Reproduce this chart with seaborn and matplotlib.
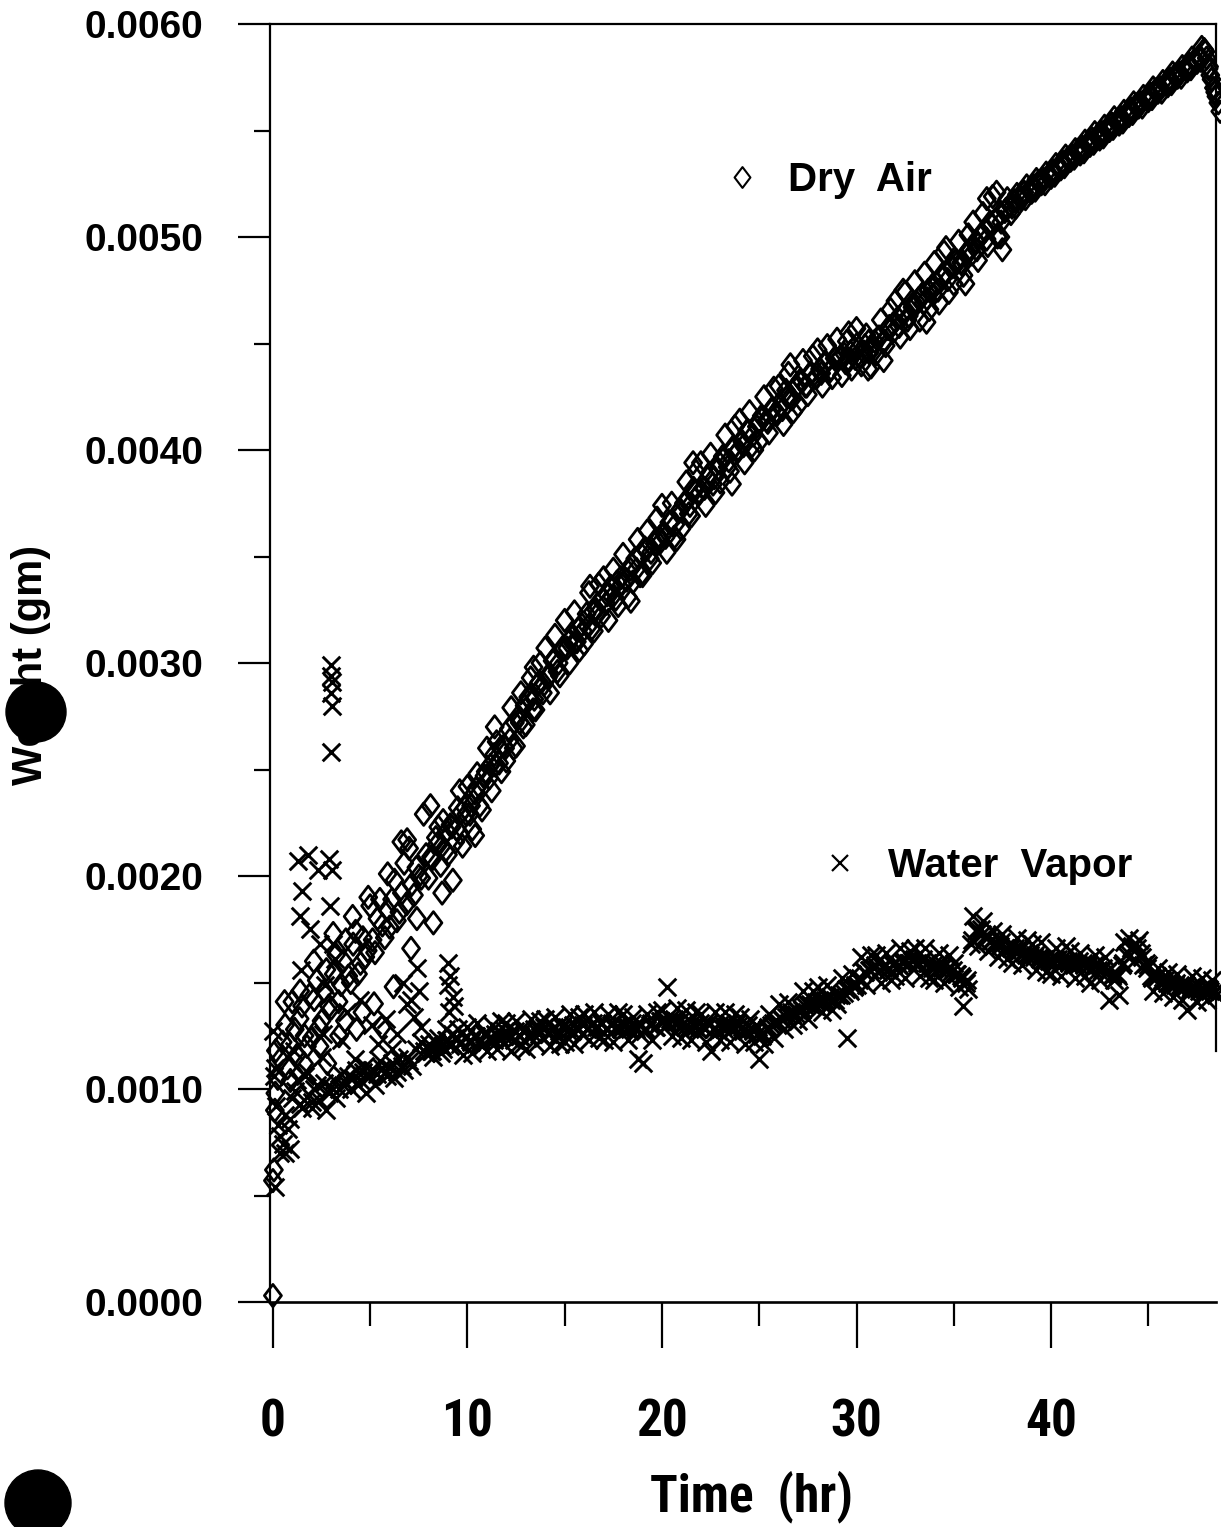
"""
Dry air vs water vapor weight gain over time (scanned plot recreation)
"""

import numpy as np
import pandas as pd
import matplotlib
matplotlib.use("Agg")
import matplotlib.pyplot as plt
from matplotlib.path import Path
from matplotlib.patches import Ellipse
from matplotlib.lines import Line2D
from matplotlib import font_manager
import seaborn as sns

# Sampling times (hr), shared by both runs
time_hr = [
    0.0, 0.25, 0.5, 0.75, 1.0, 1.25, 1.5, 1.75, 2.0, 2.25, 2.5, 2.75,
    3.0, 3.25, 3.5, 3.75, 4.0, 4.25, 4.5, 4.75, 5.0, 5.25, 5.5, 5.75,
    6.0, 6.25, 6.5, 6.75, 7.0, 7.25, 7.5, 7.75, 8.0, 8.25, 8.5, 8.75,
    9.0, 9.25, 9.5, 9.75, 10.0, 10.25, 10.5, 10.75, 11.0, 11.25, 11.5, 11.75,
    12.0, 12.25, 12.5, 12.75, 13.0, 13.25, 13.5, 13.75, 14.0, 14.25, 14.5, 14.75,
    15.0, 15.25, 15.5, 15.75, 16.0, 16.25, 16.5, 16.75, 17.0, 17.25, 17.5, 17.75,
    18.0, 18.25, 18.5, 18.75, 19.0, 19.25, 19.5, 19.75, 20.0, 20.25, 20.5, 20.75,
    21.0, 21.25, 21.5, 21.75, 22.0, 22.25, 22.5, 22.75, 23.0, 23.25, 23.5, 23.75,
    24.0, 24.25, 24.5, 24.75, 25.0, 25.25, 25.5, 25.75, 26.0, 26.25, 26.5, 26.75,
    27.0, 27.25, 27.5, 27.75, 28.0, 28.25, 28.5, 28.75, 29.0, 29.25, 29.5, 29.75,
    30.0, 30.25, 30.5, 30.75, 31.0, 31.25, 31.5, 31.75, 32.0, 32.25, 32.5, 32.75,
    33.0, 33.25, 33.5, 33.75, 34.0, 34.25, 34.5, 34.75, 35.0, 35.25, 35.5, 35.75,
    36.0, 36.25, 36.5, 36.75, 37.0, 37.25, 37.5, 37.75, 38.0, 38.25, 38.5, 38.75,
    39.0, 39.25, 39.5, 39.75, 40.0, 40.25, 40.5, 40.75, 41.0, 41.25, 41.5, 41.75,
    42.0, 42.25, 42.5, 42.75, 43.0, 43.25, 43.5, 43.75, 44.0, 44.25, 44.5, 44.75,
    45.0, 45.25, 45.5, 45.75, 46.0, 46.25, 46.5, 46.75, 47.0, 47.25, 47.5, 47.75,
    48.0, 48.25, 48.5,
]

# Weights, in units of 1e-4 gm
dry_air = [
    0.3, 10.5, 12.2, 11.0, 14.1, 11.6, 13.9, 12.0, 12.4, 15.1, 13.2, 15.6,
    13.8, 16.3, 14.9, 17.0, 15.0, 17.4, 15.9, 16.2, 18.6, 16.4, 18.9, 17.1,
    17.6, 19.8, 18.3, 20.6, 21.3, 19.1, 20.0, 22.9, 19.9, 17.8, 22.3, 22.6,
    21.0, 19.8, 23.2, 21.4, 24.2, 22.2, 24.8, 23.1, 26.0, 24.0, 26.3, 24.9,
    25.4, 27.9, 26.1, 28.6, 27.1, 29.3, 27.8, 30.0, 30.7, 28.6, 31.3, 29.4,
    32.0, 30.0, 32.4, 30.6, 30.9, 33.3, 31.5, 33.7, 34.0, 32.0, 34.4, 32.7,
    35.1, 33.1, 33.8, 35.8, 34.1, 36.2, 34.7, 36.8, 37.4, 35.2, 37.5, 35.8,
    36.3, 38.5, 36.9, 39.0, 39.4, 37.4, 39.8, 38.0, 38.5, 40.7, 39.0, 41.1,
    41.4, 39.4, 41.8, 40.0, 40.4, 42.5, 40.8, 42.9, 43.0, 41.2, 43.6, 41.8,
    42.1, 44.2, 42.6, 44.4, 44.7, 43.0, 44.9, 43.4, 45.2, 43.5, 45.1, 43.8,
    45.7, 44.0, 45.4, 43.9, 44.5, 46.1, 44.9, 46.6, 47.0, 45.3, 47.4, 45.7,
    47.9, 46.1, 48.3, 46.6, 48.8, 46.9, 49.3, 47.4, 47.8, 49.8, 48.2, 50.1,
    50.7, 48.9, 51.1, 49.6, 51.9, 50.0, 49.4, 51.8, 51.4, 52.0, 51.8, 52.4,
    52.1, 52.7, 52.5, 53.0, 52.8, 53.4, 53.2, 53.8, 53.6, 54.1, 53.9, 54.5,
    54.3, 54.9, 54.6, 55.2, 55.0, 55.6, 55.3, 55.9, 55.7, 56.3, 56.1, 56.6,
    56.4, 57.0, 56.8, 57.3, 57.1, 57.7, 57.5, 58.0, 57.8, 58.4, 58.2, 58.9,
    58.4, 57.4, 56.6,
]

water_vapor = [
    12.7, 8.3, 7.4, 8.1, 9.6, 10.4, 9.1, 10.8, 9.4, 10.2, 11.5, 9.0,
    10.1, 9.6, 10.7, 10.3, 10.0, 10.9, 10.4, 11.1, 10.6, 10.2, 11.3, 10.8,
    11.0, 10.5, 11.4, 10.9, 11.3, 13.4, 14.6, 11.8, 12.1, 11.5, 12.4, 11.9,
    15.9, 14.3, 12.8, 11.6, 12.9, 11.7, 13.1, 12.0, 11.8, 13.0, 11.9, 13.2,
    13.1, 11.8, 13.2, 12.0, 11.9, 13.3, 12.1, 13.2, 13.3, 12.0, 13.4, 12.1,
    12.2, 13.5, 12.1, 13.4, 13.5, 12.3, 13.6, 12.4, 12.3, 13.5, 12.2, 13.6,
    13.5, 12.3, 13.4, 11.4, 11.2, 13.5, 12.3, 13.6, 13.7, 14.8, 12.5, 13.8,
    12.4, 13.7, 12.3, 13.6, 13.5, 12.2, 11.8, 13.6, 12.3, 13.6, 12.2, 13.5,
    13.4, 12.1, 13.3, 12.2, 11.4, 12.1, 13.5, 12.4, 14.0, 12.8, 14.1, 13.0,
    13.2, 14.6, 13.3, 14.6, 14.8, 13.6, 14.9, 13.7, 14.0, 15.2, 12.4, 15.4,
    14.9, 16.2, 14.9, 16.3, 16.3, 15.0, 16.4, 15.1, 15.3, 16.6, 15.2, 16.5,
    16.6, 15.3, 16.6, 15.2, 15.1, 16.4, 15.0, 16.3, 15.9, 14.8, 13.9, 14.7,
    18.1, 16.7, 17.9, 16.5, 17.4, 16.2, 17.3, 16.1, 15.9, 17.1, 15.8, 17.0,
    16.8, 15.6, 16.9, 15.5, 15.4, 16.6, 15.3, 16.7, 16.5, 15.2, 16.4, 15.3,
    15.0, 16.3, 15.1, 16.2, 14.2, 15.1, 14.4, 16.9, 17.1, 16.0, 17.0, 15.8,
    15.8, 14.6, 15.7, 14.5, 15.5, 14.3, 15.4, 14.2, 13.7, 15.3, 14.1, 15.2,
    14.2, 15.1, 14.4,
]

# Readings logged in between the grid times above
time_hr_b = [
    0.125, 0.375, 0.625, 0.875, 1.125, 1.375, 1.625, 1.875, 2.125, 2.375, 2.625, 2.875,
    3.125, 3.375, 3.625, 3.875, 4.125, 4.375, 4.625, 4.875, 5.125, 5.375, 5.625, 5.875,
    6.125, 6.375, 6.625, 6.875, 7.125, 7.375, 7.625, 7.875, 8.125, 8.375, 8.625, 8.875,
    9.125, 9.375, 9.625, 9.875, 10.125, 10.375, 10.625, 10.875, 11.125, 11.375, 11.625, 11.875,
    12.125, 12.375, 12.625, 12.875, 13.125, 13.375, 13.625, 13.875, 14.125, 14.375, 14.625, 14.875,
    15.125, 15.375, 15.625, 15.875, 16.125, 16.375, 16.625, 16.875, 17.125, 17.375, 17.625, 17.875,
    18.125, 18.375, 18.625, 18.875, 19.125, 19.375, 19.625, 19.875, 20.125, 20.375, 20.625, 20.875,
    21.125, 21.375, 21.625, 21.875, 22.125, 22.375, 22.625, 22.875, 23.125, 23.375, 23.625, 23.875,
    24.125, 24.375, 24.625, 24.875, 25.125, 25.375, 25.625, 25.875, 26.125, 26.375, 26.625, 26.875,
    27.125, 27.375, 27.625, 27.875, 28.125, 28.375, 28.625, 28.875, 29.125, 29.375, 29.625, 29.875,
    30.125, 30.375, 30.625, 30.875, 31.125, 31.375, 31.625, 31.875, 32.125, 32.375, 32.625, 32.875,
    33.125, 33.375, 33.625, 33.875, 34.125, 34.375, 34.625, 34.875, 35.125, 35.375, 35.625, 35.875,
    36.125, 36.375, 36.625, 36.875, 37.125, 37.375, 37.625, 37.875, 38.125, 38.375, 38.625, 38.875,
    39.125, 39.375, 39.625, 39.875, 40.125, 40.375, 40.625, 40.875, 41.125, 41.375, 41.625, 41.875,
    42.125, 42.375, 42.625, 42.875, 43.125, 43.375, 43.625, 43.875, 44.125, 44.375, 44.625, 44.875,
    45.125, 45.375, 45.625, 45.875, 46.125, 46.375, 46.625, 46.875, 47.125, 47.375, 47.625, 47.875,
    48.125, 48.375,
]

dry_air_b = [
    9.8, 11.4, 13.0, 12.1, 12.8, 13.3, 12.5, 14.4, 14.2, 12.9, 14.6, 13.9,
    15.4, 14.1, 16.0, 15.3, 16.8, 15.4, 17.1, 16.5, 17.0, 18.0, 17.7, 18.4,
    18.9, 17.9, 19.2, 18.7, 19.6, 20.4, 19.9, 21.0, 20.9, 21.8, 20.5, 21.2,
    22.4, 21.6, 22.0, 23.2, 22.9, 23.9, 23.3, 24.7, 24.6, 25.7, 25.3, 26.1,
    26.9, 26.0, 27.5, 27.0, 28.4, 27.8, 29.0, 28.6, 29.3, 30.1, 29.6, 30.6,
    30.7, 31.2, 31.0, 31.8, 32.3, 31.6, 32.5, 32.2, 32.8, 33.6, 33.0, 34.0,
    33.9, 34.4, 34.9, 34.1, 35.4, 34.9, 35.6, 35.9, 36.1, 36.6, 35.9, 37.1,
    37.5, 37.0, 38.2, 37.9, 38.2, 38.7, 38.4, 39.1, 39.7, 39.2, 40.0, 39.9,
    40.4, 40.9, 40.2, 41.1, 41.6, 41.4, 41.9, 41.8, 42.1, 42.8, 42.5, 42.9,
    43.3, 43.0, 43.6, 43.4, 43.8, 44.1, 43.7, 44.3, 44.3, 44.5, 44.2, 44.8,
    44.8, 44.6, 45.1, 44.9, 45.3, 45.1, 45.7, 45.9, 46.2, 46.4, 46.1, 46.7,
    46.9, 47.3, 47.1, 47.6, 47.8, 48.1, 48.3, 48.6, 48.9, 48.8, 49.2, 49.4,
    49.8, 50.0, 50.3, 50.7, 50.8, 51.1, 51.2, 51.5, 51.7, 51.9, 52.1, 52.2,
    52.4, 52.6, 52.7, 52.9, 53.1, 53.3, 53.5, 53.7, 53.8, 54.0, 54.2, 54.4,
    54.6, 54.7, 54.9, 55.1, 55.3, 55.4, 55.6, 55.8, 56.0, 56.2, 56.3, 56.5,
    56.7, 56.9, 57.0, 57.2, 57.4, 57.6, 57.7, 57.9, 58.1, 58.3, 58.5, 58.8,
    58.0, 57.0,
]

water_vapor_b = [
    11.0, 7.8, 7.0, 8.6, 9.9, 9.3, 10.6, 9.7, 10.0, 9.5, 10.3, 9.8,
    10.4, 10.0, 10.2, 10.6, 10.5, 10.2, 10.8, 10.6, 10.9, 10.7, 11.0, 10.6,
    11.2, 10.8, 11.1, 11.5, 11.1, 11.9, 12.2, 11.7, 11.8, 12.2, 11.7, 12.3,
    12.0, 12.4, 12.1, 12.4, 12.3, 12.5, 12.2, 12.6, 12.4, 12.3, 12.7, 12.5,
    12.6, 12.3, 12.5, 12.7, 12.5, 12.6, 12.8, 12.4, 12.6, 12.8, 12.5, 12.9,
    12.9, 12.7, 12.9, 12.6, 12.8, 13.0, 12.9, 13.1, 12.8, 13.0, 12.9, 12.8,
    13.0, 12.8, 12.9, 12.6, 12.7, 13.0, 12.9, 13.2, 13.2, 13.1, 13.3, 12.9,
    13.1, 12.9, 13.0, 12.8, 12.9, 13.1, 12.8, 12.7, 13.0, 12.9, 12.8, 13.1,
    12.9, 12.7, 12.8, 12.6, 12.5, 12.8, 13.0, 13.1, 13.3, 13.4, 13.6, 13.5,
    13.8, 13.9, 14.0, 13.9, 14.1, 14.2, 14.3, 14.2, 14.4, 14.5, 14.7, 14.8,
    15.1, 15.5, 15.6, 15.7, 15.5, 15.7, 15.6, 15.8, 15.8, 15.9, 15.9, 16.0,
    15.9, 16.0, 15.9, 15.7, 15.8, 15.7, 15.6, 15.5, 15.4, 15.3, 15.0, 16.8,
    17.4, 17.5, 17.2, 16.9, 16.9, 16.7, 16.6, 16.7, 16.6, 16.5, 16.4, 16.4,
    16.2, 16.2, 16.1, 16.0, 16.0, 16.1, 15.9, 16.0, 15.9, 15.8, 15.9, 15.8,
    15.7, 15.8, 15.6, 15.5, 15.3, 15.4, 15.8, 16.3, 16.6, 16.8, 16.4, 15.9,
    15.3, 15.2, 15.0, 15.1, 15.0, 14.9, 14.9, 14.8, 14.7, 14.8, 14.6, 14.7,
    14.7, 14.5,
]

# A third reading per step from 8 hr on (the dense core of each band)
time_hr_c = [
    8.1875, 8.4375, 8.6875, 8.9375, 9.1875, 9.4375, 9.6875, 9.9375,
    10.1875, 10.4375, 10.6875, 10.9375, 11.1875, 11.4375, 11.6875, 11.9375,
    12.1875, 12.4375, 12.6875, 12.9375, 13.1875, 13.4375, 13.6875, 13.9375,
    14.1875, 14.4375, 14.6875, 14.9375, 15.1875, 15.4375, 15.6875, 15.9375,
    16.1875, 16.4375, 16.6875, 16.9375, 17.1875, 17.4375, 17.6875, 17.9375,
    18.1875, 18.4375, 18.6875, 18.9375, 19.1875, 19.4375, 19.6875, 19.9375,
    20.1875, 20.4375, 20.6875, 20.9375, 21.1875, 21.4375, 21.6875, 21.9375,
    22.1875, 22.4375, 22.6875, 22.9375, 23.1875, 23.4375, 23.6875, 23.9375,
    24.1875, 24.4375, 24.6875, 24.9375, 25.1875, 25.4375, 25.6875, 25.9375,
    26.1875, 26.4375, 26.6875, 26.9375, 27.1875, 27.4375, 27.6875, 27.9375,
    28.1875, 28.4375, 28.6875, 28.9375, 29.1875, 29.4375, 29.6875, 29.9375,
    30.1875, 30.4375, 30.6875, 30.9375, 31.1875, 31.4375, 31.6875, 31.9375,
    32.1875, 32.4375, 32.6875, 32.9375, 33.1875, 33.4375, 33.6875, 33.9375,
    34.1875, 34.4375, 34.6875, 34.9375, 35.1875, 35.4375, 35.6875, 35.9375,
    36.1875, 36.4375, 36.6875, 36.9375, 37.1875, 37.4375, 37.6875, 37.9375,
    38.1875, 38.4375, 38.6875, 38.9375, 39.1875, 39.4375, 39.6875, 39.9375,
    40.1875, 40.4375, 40.6875, 40.9375, 41.1875, 41.4375, 41.6875, 41.9375,
    42.1875, 42.4375, 42.6875, 42.9375, 43.1875, 43.4375, 43.6875, 43.9375,
    44.1875, 44.4375, 44.6875, 44.9375, 45.1875, 45.4375, 45.6875, 45.9375,
    46.1875, 46.4375, 46.6875, 46.9375, 47.1875, 47.4375, 47.6875, 47.9375,
    48.1875, 48.4375,
]

dry_air_c = [
    20.8, 21.5, 21.4, 22.1, 22.3, 22.2, 23.0, 22.9,
    23.3, 24.1, 24.1, 24.9, 25.2, 25.2, 26.0, 26.0,
    26.4, 27.2, 27.2, 28.0, 28.3, 28.3, 29.1, 29.0,
    29.4, 30.1, 30.0, 30.7, 31.0, 30.9, 31.6, 31.5,
    31.7, 32.4, 32.3, 33.0, 33.2, 33.1, 33.8, 33.7,
    33.9, 34.6, 34.4, 35.1, 35.3, 35.2, 35.8, 35.7,
    35.9, 36.6, 36.5, 37.2, 37.5, 37.4, 38.1, 38.0,
    38.2, 38.9, 38.7, 39.4, 39.6, 39.5, 40.1, 40.0,
    40.2, 40.9, 40.7, 41.3, 41.5, 41.3, 41.9, 41.7,
    41.9, 42.5, 42.4, 43.0, 43.2, 43.0, 43.6, 43.4,
    43.6, 44.1, 43.8, 44.3, 44.4, 44.1, 44.6, 44.3,
    44.4, 44.9, 44.6, 45.1, 45.3, 45.1, 45.8, 45.6,
    45.8, 46.5, 46.3, 46.9, 47.1, 46.9, 47.5, 47.3,
    47.5, 48.2, 48.0, 48.6, 48.8, 48.7, 49.3, 49.2,
    49.4, 50.1, 49.9, 50.6, 50.8, 50.7, 51.3, 51.1,
    51.4, 51.8, 51.8, 52.2, 52.2, 52.6, 52.5, 52.9,
    52.9, 53.3, 53.3, 53.7, 53.7, 54.1, 54.0, 54.4,
    54.4, 54.8, 54.7, 55.1, 55.1, 55.5, 55.4, 55.8,
    55.8, 56.2, 56.1, 56.5, 56.5, 56.9, 56.8, 57.2,
    57.2, 57.6, 57.5, 57.9, 57.9, 58.3, 58.3, 58.7,
    57.6, 56.8,
]

water_vapor_c = [
    11.8, 12.1, 12.0, 12.3, 12.1, 12.4, 12.2, 12.5,
    12.2, 12.5, 12.3, 12.6, 12.3, 12.6, 12.4, 12.7,
    12.4, 12.7, 12.5, 12.8, 12.5, 12.8, 12.6, 12.9,
    12.6, 12.9, 12.7, 13.0, 12.7, 13.0, 12.8, 13.0,
    12.8, 13.1, 12.9, 13.1, 12.8, 13.1, 12.9, 13.0,
    12.8, 13.1, 12.8, 13.0, 12.8, 13.1, 12.9, 13.2,
    13.0, 13.3, 13.1, 13.2, 12.9, 13.2, 12.9, 13.1,
    12.8, 13.1, 12.8, 13.0, 12.8, 13.1, 12.9, 13.0,
    12.7, 13.0, 12.7, 12.9, 12.6, 12.9, 13.1, 13.2,
    13.3, 13.5, 13.5, 13.7, 13.7, 14.0, 13.9, 14.1,
    14.1, 14.3, 14.2, 14.4, 14.4, 14.7, 14.6, 14.9,
    15.2, 15.5, 15.6, 15.8, 15.6, 15.8, 15.7, 15.9,
    15.8, 16.0, 15.9, 16.1, 15.9, 16.1, 15.9, 15.8,
    15.7, 15.8, 15.6, 15.6, 15.4, 15.2, 15.1, 17.0,
    17.5, 17.3, 17.1, 17.0, 16.8, 16.9, 16.6, 16.6,
    16.5, 16.6, 16.3, 16.3, 16.3, 16.1, 16.1, 16.1,
    16.1, 15.9, 16.0, 15.9, 15.8, 16.0, 15.8, 15.8,
    15.8, 15.6, 15.7, 15.6, 15.4, 15.3, 15.9, 16.4,
    16.7, 16.6, 16.2, 15.7, 15.2, 15.3, 15.1, 15.0,
    14.9, 15.0, 14.8, 14.9, 14.8, 14.7, 14.7, 14.6,
    14.6, 14.6,
]

# Stray readings (scatter near the start, outliers, final drop)
dry_extra_t = [0.0, 0.05, 0.1, 0.15, 0.6, 0.9, 1.4, 1.6, 2.1, 2.4, 2.8,
               3.1, 3.4, 3.7, 4.1, 4.3, 4.6, 4.9, 5.2, 5.6, 5.9, 6.2, 6.6,
               6.9, 7.1, 7.4, 8.1, 8.7, 9.6, 10.4, 11.4, 13.4, 16.3, 18.4,
               21.6, 23.6, 26.6, 29.6, 30.6, 31.4, 32.4, 33.6, 34.6, 35.6,
               36.7, 37.2, 37.4, 48.1, 48.4, 48.6, 48.7]
dry_extra_w = [5.7, 6.2, 9.0, 11.8, 14.1, 10.4, 14.6, 11.2, 16.0, 12.0, 11.2,
               17.3, 12.5, 13.2, 18.1, 12.8, 13.6, 19.0, 14.0, 12.9, 20.1, 14.8, 21.6,
               21.7, 16.6, 18.0, 23.3, 19.2, 24.0, 21.9, 27.0, 29.8, 33.6, 32.9,
               39.4, 38.4, 44.0, 45.5, 43.8, 44.2, 47.5, 46.0, 49.5, 47.8,
               51.8, 52.1, 50.0, 57.9, 57.0, 56.3, 55.9]

wv_extra_t = [0.05, 0.1, 0.15, 0.35, 0.6, 0.9, 1.1, 1.3, 1.4, 1.45, 1.5, 1.8,
              1.9, 2.0, 2.3, 2.4, 2.6, 2.7, 2.9, 2.95, 3.0, 3.0, 3.02, 3.0,
              3.02, 3.0, 3.05, 3.1, 3.2, 3.5, 3.8, 4.2, 4.5, 4.8, 5.1, 5.4,
              5.8, 6.1, 6.4, 6.7, 6.9, 7.1, 7.4, 7.6, 8.9, 9.0, 9.05, 9.1,
              9.2, 9.3]
wv_extra_w = [10.6, 5.4, 9.2, 7.0, 8.8, 7.2, 11.8, 20.7, 18.1, 15.6, 19.3, 21.0,
              17.5, 9.1, 20.3, 16.8, 12.6, 14.9, 20.8, 18.6, 29.9, 29.4, 29.1, 28.6,
              28.0, 25.8, 20.3, 16.8, 16.1, 12.3, 13.6, 11.4, 14.2, 9.8, 13.0, 12.1,
              13.3, 11.9, 12.6, 15.0, 14.0, 14.2, 15.7, 12.9, 12.8, 14.9, 13.6, 15.3,
              12.6, 13.9]

x_major = [0, 10, 20, 30, 40]
x_minor = [5, 15, 25, 35, 45]
y_major = [0.0, 0.001, 0.002, 0.003, 0.004, 0.005, 0.006]
y_minor = [0.0005, 0.0015, 0.0025, 0.0035, 0.0045, 0.0055]
y_labels = ['0.0000', '0.0010', '0.0020', '0.0030', '0.0040', '0.0050', '0.0060']

assert len(time_hr) == len(dry_air) == len(water_vapor)
assert len(time_hr_b) == len(dry_air_b) == len(water_vapor_b)
assert len(time_hr_c) == len(dry_air_c) == len(water_vapor_c)
assert len(dry_extra_t) == len(dry_extra_w)
assert len(wv_extra_t) == len(wv_extra_w)

sns.set_style("white")
plt.rcParams['font.family'] = ['Liberation Sans', 'DejaVu Sans']
plt.rcParams['text.color'] = 'black'
plt.rcParams['axes.labelcolor'] = 'black'

# condensed face for the time axis, if one is installed
installed = {f.name for f in font_manager.fontManager.ttflist}
condensed = [f for f in ['Liberation Sans Narrow', 'Roboto Condensed']
             if f in installed]
if condensed:
    narrow, xtick_size, xlabel_size = condensed[0], 37, 37
else:
    narrow, xtick_size, xlabel_size = 'Liberation Sans', 31, 31

dry = pd.DataFrame({
    'time': time_hr + time_hr_b + time_hr_c + dry_extra_t,
    'weight': np.array(dry_air + dry_air_b + dry_air_c + dry_extra_w) * 1e-4})
wet = pd.DataFrame({
    'time': time_hr + time_hr_b + time_hr_c + wv_extra_t,
    'weight': np.array(water_vapor + water_vapor_b + water_vapor_c + wv_extra_w) * 1e-4})

# open, slightly tall diamond
diamond = Path([(0, 1), (0.76, 0), (0, -1), (-0.76, 0), (0, 1)],
               [Path.MOVETO, Path.LINETO, Path.LINETO, Path.LINETO, Path.CLOSEPOLY])

W, H = 1221, 1527
fig = plt.figure(figsize=(W / 100, H / 100), dpi=100)
ax = fig.add_axes([270 / W, 225 / H, 946 / W, 1278 / H])

sns.scatterplot(data=wet, x='time', y='weight', marker='x', s=160,
                color='black', linewidth=2.1, clip_on=False, legend=False, ax=ax)
sns.scatterplot(data=dry, x='time', y='weight', marker=diamond, s=260,
                color='black', facecolor='none', edgecolor='black',
                linewidth=2.0, clip_on=False, legend=False, ax=ax)

ax.set_xlim(-0.15, 48.48)
ax.set_ylim(0, 0.006)

for side in ['left', 'top', 'bottom', 'right']:
    ax.spines[side].set_color('black')
    ax.spines[side].set_linewidth(1.6)
ax.spines['bottom'].set_linewidth(1.9)
ax.spines['right'].set_bounds(0.00118, 0.006)

ax.set_xticks(x_major)
ax.set_xticks(x_minor, minor=True)
ax.set_xticklabels([str(v) for v in x_major], family=narrow,
                   fontsize=xtick_size, fontweight='bold')
ax.set_yticks(y_major)
ax.set_yticks(y_minor, minor=True)
ax.set_yticklabels(y_labels, fontsize=28, fontweight='bold')

ax.tick_params(which='both', bottom=True, left=True, top=False, right=False,
               colors='black', direction='out')
ax.tick_params(axis='x', which='major', length=33, width=1.6, pad=36)
ax.tick_params(axis='x', which='minor', length=17, width=1.6)
ax.tick_params(axis='y', which='major', length=23, width=1.6, pad=25)
ax.tick_params(axis='y', which='minor', length=11.5, width=1.6)

ax.set_xlabel('Time  (hr)', family=narrow, fontsize=xlabel_size, fontweight='bold')
ax.xaxis.label.set_va('center')
ax.xaxis.set_label_coords(0.5085, -0.1526)
ax.set_ylabel('Weight (gm)', fontsize=30, fontweight='bold')
ax.yaxis.label.set_va('center')
ax.yaxis.set_label_coords(-0.2526, 0.4985)

# two separate legend keys, placed where the original puts them
legend_font = dict(family='Liberation Sans', weight='bold', size=29)
dry_key = Line2D([], [], ls='none', marker=diamond, ms=15, mfc='none',
                 mec='black', mew=1.5)
wet_key = Line2D([], [], ls='none', marker='x', ms=11.5, color='black', mew=1.6)
leg1 = ax.legend([dry_key], ['Dry  Air'], loc='center left',
                 bbox_to_anchor=(0.482, 0.878), frameon=False, prop=legend_font,
                 borderpad=0, borderaxespad=0, handlelength=0.8, handletextpad=0.75)
ax.add_artist(leg1)
ax.legend([wet_key], ['Water  Vapor'], loc='center left',
          bbox_to_anchor=(0.5856, 0.341), frameon=False, prop=legend_font,
          borderpad=0, borderaxespad=0, handlelength=0.8, handletextpad=0.79)

# punch-hole blots on the scanned page
fig.add_artist(Ellipse((36 / W, 1 - 712 / H), 60 / W, 60 / H,
                       transform=fig.transFigure, color='black', zorder=10))
fig.add_artist(Ellipse((38 / W, 1 - 1503 / H), 66 / W, 66 / H,
                       transform=fig.transFigure, color='black', zorder=10))

fig.savefig('out.png', dpi=100, facecolor='white')
